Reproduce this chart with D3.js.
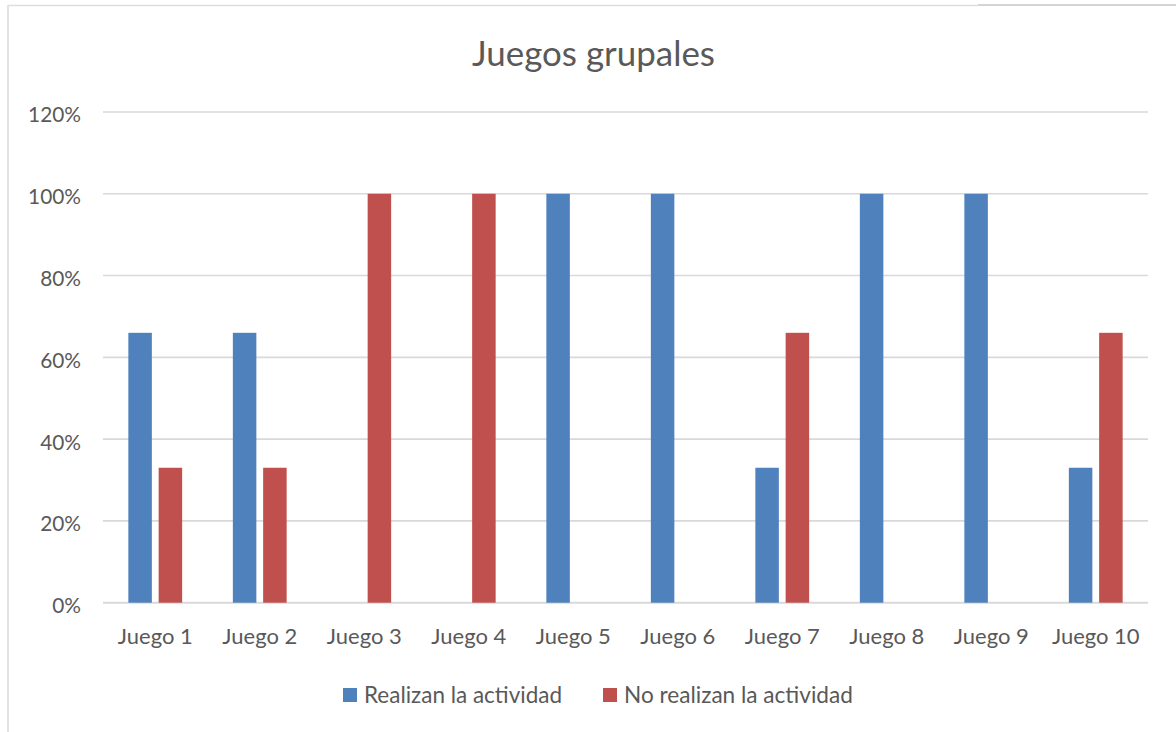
<!DOCTYPE html>
<html>
<head>
<meta charset="utf-8">
<script src="https://cdn.jsdelivr.net/npm/d3@7"></script>
<style>
  html, body { margin: 0; padding: 0; background: #fff; }
  svg { display: block; }
  text { font-family: Lato, "Open Sans", sans-serif; fill: #595959; }
</style>
</head>
<body>
<svg id="chart" width="1176" height="732"></svg>
<script>
const categories = ["Juego 1","Juego 2","Juego 3","Juego 4","Juego 5","Juego 6","Juego 7","Juego 8","Juego 9","Juego 10"];
const seriesNames = ["Realizan la actividad","No realizan la actividad"];
const realizan =    [0.66, 0.66, 0,    0,    1, 1, 0.33, 1, 1, 0.33];
const noRealizan =  [0.33, 0.33, 1,    1,    0, 0, 0.66, 0, 0, 0.66];
const yTicks = [0, 0.2, 0.4, 0.6, 0.8, 1.0, 1.2];
const colors = ["#4F81BD", "#C0504D"];
const titleText = "Juegos grupales";

const svg = d3.select("#chart");
const W = 1176, H = 732;

// frame lines
svg.append("line").attr("x1", 8).attr("x2", 8).attr("y1", 5).attr("y2", H)
  .attr("stroke", "#D9D9D9").attr("stroke-width", 1.5);
svg.append("line").attr("x1", 8).attr("x2", 978).attr("y1", 5.5).attr("y2", 5.5)
  .attr("stroke", "#DEDEDE").attr("stroke-width", 1.3);
svg.append("line").attr("x1", 978).attr("x2", W).attr("y1", 5).attr("y2", 5)
  .attr("stroke", "#D4D4D4").attr("stroke-width", 2);

const plot = { left: 103, right: 1148, top: 112, bottom: 602.7 };

const x = d3.scaleBand().domain(categories).range([plot.left, plot.right]).padding(0);
const y = d3.scaleLinear().domain([0, 1.2]).range([plot.bottom, plot.top]);

const barW = 23.5, gap = 6.8;

// gridlines
const grid = svg.append("g");
grid.selectAll("line").data(yTicks).join("line")
  .attr("x1", plot.left).attr("x2", plot.right)
  .attr("y1", d => y(d)).attr("y2", d => y(d))
  .attr("stroke", "#D9D9D9").attr("stroke-width", d => d === 0 ? 2 : 1.6);

function fitText(sel, targetWidth) {
  const node = sel.node();
  sel.attr("font-size", 20);
  const w = node.getComputedTextLength();
  sel.attr("font-size", 20 * targetWidth / w);
}

// y axis labels via d3 axis
const yAxis = d3.axisLeft(y).tickValues(yTicks).tickFormat(d3.format(".0%")).tickSize(0).tickPadding(0);
const yG = svg.append("g").attr("transform", "translate(81,0)").call(yAxis);
yG.select(".domain").remove();
yG.selectAll("text").attr("font-family", "Lato, 'Open Sans', sans-serif").attr("fill", "#595959")
  .attr("dy", "0.38em").attr("transform", "translate(0,2)");
const ySize = (() => {
  const t = yG.selectAll("text").filter(d => d === 1.2);
  t.attr("font-size", 20);
  const w = t.node().getComputedTextLength();
  return 20 * 53 / w;
})();
yG.selectAll("text").attr("font-size", ySize);

// x axis labels
const xAxis = d3.axisBottom(x).tickSize(0).tickPadding(0);
const xG = svg.append("g").attr("transform", "translate(0,636.5)").call(xAxis);
xG.select(".domain").remove();
xG.selectAll("text").attr("font-family", "Lato, 'Open Sans', sans-serif").attr("fill", "#595959")
  .attr("dy", "0.35em");
const xSize = (() => {
  const t = xG.selectAll("text").filter(d => d === "Juego 1");
  t.attr("font-size", 20);
  const w = t.node().getComputedTextLength();
  return 20 * 75 / w;
})();
xG.selectAll("text").attr("font-size", xSize);

// bars
const seriesData = [realizan, noRealizan];
seriesData.forEach((vals, si) => {
  const offset = si === 0 ? -(gap / 2 + barW) : gap / 2;
  svg.append("g").selectAll("rect").data(categories.map((c, i) => ({ c, v: vals[i] })))
    .join("rect")
    .filter(d => d.v > 0)
    .attr("x", d => x(d.c) + x.bandwidth() / 2 + offset)
    .attr("width", barW)
    .attr("y", d => y(d.v))
    .attr("height", d => y(0) - y(d.v))
    .attr("fill", colors[si]);
});

// title
const title = svg.append("text").text(titleText)
  .attr("x", 593.5).attr("y", 52).attr("text-anchor", "middle").attr("dominant-baseline", "central");
fitText(title, 243);

// legend
const legendItems = [
  { name: seriesNames[0], color: colors[0], sx: 343, tx: 364, tw: 198 },
  { name: seriesNames[1], color: colors[1], sx: 603, tx: 624, tw: 229 }
];
const lg = svg.append("g");
legendItems.forEach(it => {
  lg.append("rect").attr("x", it.sx).attr("y", 688).attr("width", 14).attr("height", 14).attr("fill", it.color);
  const t = lg.append("text").text(it.name).attr("x", it.tx).attr("y", 694.5).attr("dominant-baseline", "central");
  fitText(t, it.tw);
});
</script>
</body>
</html>
